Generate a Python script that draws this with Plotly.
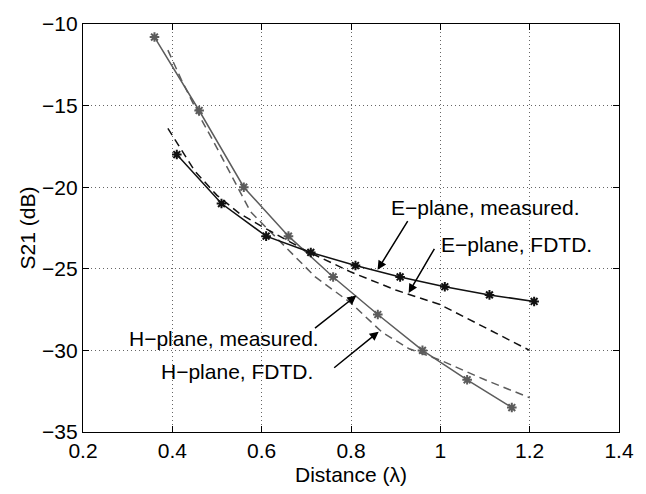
import plotly.graph_objects as go

# ---- data ----
h_meas_x = [0.36, 0.46, 0.56, 0.66, 0.76, 0.86, 0.96, 1.06, 1.16]
h_meas_y = [-10.8, -15.3, -20.0, -23.0, -25.5, -27.8, -30.0, -31.8, -33.5]

e_meas_x = [0.41, 0.51, 0.61, 0.71, 0.81, 0.91, 1.01, 1.11, 1.21]
e_meas_y = [-18.0, -21.0, -23.0, -24.0, -24.8, -25.5, -26.1, -26.6, -27.0]

e_fdtd_x = [0.39, 0.45, 0.50, 0.55, 0.60, 0.70, 0.80, 0.90, 1.00, 1.10, 1.20]
e_fdtd_y = [-16.4, -19.0, -20.5, -21.6, -22.4, -23.9, -25.2, -26.3, -27.2, -28.6, -30.0]

h_fdtd_x = [0.39, 0.42, 0.46, 0.50, 0.575, 0.65, 0.72, 0.80, 0.87, 0.93, 1.00, 1.10, 1.20]
h_fdtd_y = [-11.6, -13.4, -15.6, -17.6, -21.5, -23.6, -25.5, -27.1, -28.9, -29.9, -30.6, -31.8, -32.9]

x_ticks = [0.2, 0.4, 0.6, 0.8, 1.0, 1.2, 1.4]
x_tick_labels = ["0.2", "0.4", "0.6", "0.8", "1", "1.2", "1.4"]
y_ticks = [-35, -30, -25, -20, -15, -10]
y_tick_labels = ["\u221235", "\u221230", "\u221225", "\u221220", "\u221215", "\u221210"]

labels = ["E\u2212plane, measured.", "E\u2212plane, FDTD.",
          "H\u2212plane, measured.", "H\u2212plane, FDTD."]

GRAY = "#5c5c5c"
BLACK = "#111111"
FONT = "Liberation Sans"

fig = go.Figure()
fig.add_trace(go.Scatter(x=h_fdtd_x, y=h_fdtd_y, mode="lines",
                         line=dict(color=GRAY, width=1.5, dash="8px,5px")))
fig.add_trace(go.Scatter(x=e_fdtd_x, y=e_fdtd_y, mode="lines",
                         line=dict(color=BLACK, width=1.5, dash="8px,5px")))
fig.add_trace(go.Scatter(x=h_meas_x, y=h_meas_y, mode="lines+markers",
                         line=dict(color=GRAY, width=1.5),
                         marker=dict(symbol="asterisk-open", size=8,
                                     line=dict(color=GRAY, width=2))))
fig.add_trace(go.Scatter(x=e_meas_x, y=e_meas_y, mode="lines+markers",
                         line=dict(color=BLACK, width=1.5),
                         marker=dict(symbol="asterisk-open", size=8,
                                     line=dict(color=BLACK, width=2))))

# arrows (head, tail) in data coords
arrows = [
    ((0.8595, -25.06), (0.929, -21.99)),
    ((0.929, -26.48), (0.9886, -23.68)),
    ((0.812, -26.64), (0.716, -28.71)),
    ((0.862, -28.85), (0.759, -31.14)),
]
texts = [(1.1016, -21.26), (1.1705, -23.52), (0.516, -29.27), (0.545, -31.28)]

for (hx, hy), (tx, ty) in arrows:
    fig.add_annotation(x=hx, y=hy, ax=tx, ay=ty, xref="x", yref="y",
                       axref="x", ayref="y", text="", showarrow=True,
                       arrowhead=2, arrowsize=1.2, arrowwidth=1.5,
                       arrowcolor="black", standoff=0, startstandoff=0)
for lab, (tx, ty) in zip(labels, texts):
    fig.add_annotation(x=tx, y=ty, xref="x", yref="y", text=lab,
                       showarrow=False, font=dict(family=FONT, size=21, color="black"))

axis_common = dict(showline=True, linecolor="black", linewidth=1.3, mirror="ticks",
                   ticks="inside", ticklen=6, tickcolor="black", tickwidth=1,
                   showgrid=True, gridcolor="#666666", gridwidth=1, griddash="1px,3px",
                   zeroline=False, tickfont=dict(family=FONT, size=21, color="black"))

fig.update_xaxes(range=[0.2, 1.4], tickvals=x_ticks, ticktext=x_tick_labels,
                 title=dict(text="Distance (\u03bb)", font=dict(family=FONT, size=21, color="black"),
                            standoff=5),
                 **axis_common)
fig.update_yaxes(range=[-35, -10], tickvals=y_ticks, ticktext=y_tick_labels,
                 title=dict(text="S21 (dB)", font=dict(family=FONT, size=21, color="black"),
                            standoff=0),
                 **axis_common)

fig.update_layout(width=646, height=494, showlegend=False,
                  margin=dict(l=83, r=27, t=16, b=56, pad=0),
                  paper_bgcolor="white", plot_bgcolor="white",
                  font=dict(family=FONT, size=21, color="black"))

fig.write_html("out.html")
